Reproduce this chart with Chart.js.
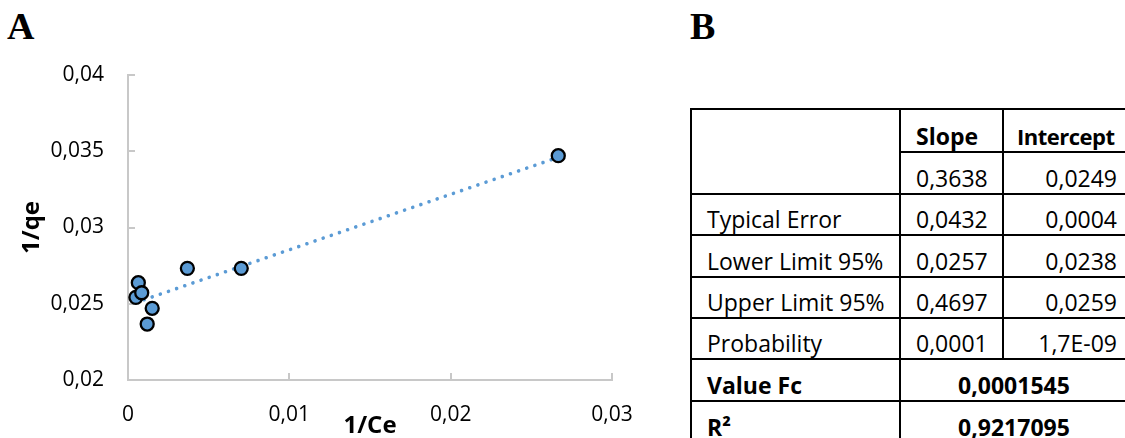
<!DOCTYPE html>
<html>
<head>
<meta charset="utf-8">
<script src="https://cdn.jsdelivr.net/npm/chart.js@4/dist/chart.umd.min.js"></script>
<style>
  body { margin: 0; background: #fff; width: 1125px; height: 438px; overflow: hidden; position: relative; }
  .panel-letter { position: absolute; top: 7px; font: bold 38px "Liberation Serif", serif; line-height: 38px; color: #000; }
  #chartBox { position: absolute; left: 0; top: 0; width: 660px; height: 438px; }
  #stats { position: absolute; left: 0; top: 0; font: 23px "Open Sans", sans-serif; color: #000; }
  #stats .cell { position: absolute; box-sizing: border-box; border: 2px solid #000; display: flex;
                 align-items: flex-end; line-height: 28px; padding: 0 10px 1px 15px; white-space: nowrap; }
  #stats .right { justify-content: flex-end; }
  #stats .center { justify-content: center; padding-left: 0; padding-right: 0; }
  #stats .bold { font-weight: bold; }
  #stats .tight { font-size: 22px; letter-spacing: -0.5px; padding-left: 13px; }
</style>
</head>
<body>
<div class="panel-letter" style="left:7px">A</div>
<div class="panel-letter" style="left:690px">B</div>
<div id="chartBox"><canvas id="isothermChart"></canvas></div>
<div id="stats"></div>

<script>
// 1/Ce vs 1/qe points
const invCe = [0.00049, 0.00064, 0.00085, 0.00119, 0.0015, 0.00368, 0.00702, 0.02667];
const invQe = [0.02542, 0.02638, 0.02572, 0.02367, 0.0247, 0.02732, 0.02732, 0.03471];

const xTickValues = [0, 0.01, 0.02, 0.03];
const xTickLabels = ["0", "0,01", "0,02", "0,03"];
const yTickValues = [0.02, 0.025, 0.03, 0.035, 0.04];
const yTickLabels = ["0,02", "0,025", "0,03", "0,035", "0,04"];

// regression table
const statLabels = ["", "Typical Error", "Lower Limit 95%", "Upper Limit 95%", "Probability"];
const slopeStats = ["0,3638", "0,0432", "0,0257", "0,4697", "0,0001"];
const interceptStats = ["0,0249", "0,0004", "0,0238", "0,0259", "1,7E-09"];
const fitLabels = ["Value Fc", "R²"];
const fitValues = ["0,0001545", "0,9217095"];

const toNum = s => parseFloat(s.replace(",", "."));
const slope = toNum(slopeStats[0]);
const intercept = toNum(interceptStats[0]);

const points = invCe.map((x, i) => ({ x: x, y: invQe[i] }));
const xMin = Math.min(...invCe), xMax = Math.max(...invCe);
const trend = [xMin, xMax].map(x => ({ x: x, y: slope * x + intercept }));

// small tick marks pointing into the plot
const innerTicks = {
    id: "innerTicks",
    beforeDatasetsDraw(chart) {
        const { ctx, scales: { x, y } } = chart;
        ctx.save();
        ctx.strokeStyle = "#c8c8c8";
        ctx.lineWidth = 2;
        ctx.beginPath();
        y.ticks.forEach(t => {
            const py = Math.round(y.getPixelForValue(t.value));
            ctx.moveTo(x.left, py);
            ctx.lineTo(x.left + 7, py);
        });
        x.ticks.forEach(t => {
            const px = Math.round(x.getPixelForValue(t.value));
            ctx.moveTo(px, y.bottom);
            ctx.lineTo(px, y.bottom - 7);
        });
        ctx.stroke();
        ctx.restore();
    }
};

const tickFont = { family: "Open Sans", size: 21 };
const titleFont = { family: "Open Sans", size: 24, weight: "bold", lineHeight: 1 };

new Chart(document.getElementById("isothermChart"), {
    type: "scatter",
    data: {
        datasets: [
            {
                data: points,
                pointRadius: 6.5,
                pointHoverRadius: 6.5,
                pointBorderWidth: 2.3,
                pointBackgroundColor: "#5b9bd5",
                pointBorderColor: "#000",
                order: 0
            },
            {
                type: "line",
                data: trend,
                borderColor: "#5b9bd5",
                borderWidth: 3.6,
                borderDash: [0.01, 8.6],
                borderCapStyle: "round",
                pointRadius: 0,
                fill: false,
                order: 1
            }
        ]
    },
    options: {
        responsive: true,
        maintainAspectRatio: false,
        animation: false,
        layout: { padding: { left: 0, top: 75, right: 48, bottom: 0 } },
        plugins: { legend: { display: false }, tooltip: { enabled: false } },
        scales: {
            x: {
                type: "linear",
                min: 0,
                max: 0.03,
                afterBuildTicks: s => { s.ticks = xTickValues.map(v => ({ value: v })); },
                afterFit: s => { s.height = 58; },
                grid: { drawOnChartArea: false, drawTicks: false },
                border: { color: "#c8c8c8", width: 2 },
                ticks: {
                    padding: 22,
                    color: "#000",
                    font: tickFont,
                    maxRotation: 0,
                    callback: (v, i) => xTickLabels[i]
                },
                title: { display: true, text: "1/Ce", color: "#000", font: titleFont, padding: { top: 0, bottom: 0 } }
            },
            y: {
                type: "linear",
                min: 0.02,
                max: 0.04,
                afterBuildTicks: s => { s.ticks = yTickValues.map(v => ({ value: v })); },
                afterFit: s => { s.width = 128; },
                grid: { drawOnChartArea: false, drawTicks: false },
                border: { color: "#c8c8c8", width: 2 },
                ticks: {
                    padding: 24,
                    color: "#000",
                    font: tickFont,
                    callback: (v, i) => yTickLabels[i]
                },
                title: { display: true, text: "1/qe", color: "#000", font: titleFont, padding: { top: 20, bottom: 0 } }
            }
        }
    },
    plugins: [innerTicks]
});

// regression table, laid out on fixed row/column lines
const colLines = [691, 900, 1003, 1128];
const rowLines = [109, 152, 194, 235, 277, 318, 359, 401, 443];
const stats = document.getElementById("stats");

function cell(r0, r1, c0, c1, text, cls) {
    const d = document.createElement("div");
    d.className = "cell" + (cls ? " " + cls : "");
    d.style.left = (colLines[c0] - 1) + "px";
    d.style.top = (rowLines[r0] - 1) + "px";
    d.style.width = (colLines[c1] - colLines[c0] + 2) + "px";
    d.style.height = (rowLines[r1] - rowLines[r0] + 2) + "px";
    d.textContent = text;
    stats.appendChild(d);
}

cell(0, 2, 0, 1, statLabels[0]);
cell(0, 1, 1, 2, "Slope", "bold");
cell(0, 1, 2, 3, "Intercept", "bold tight");
cell(1, 2, 1, 2, slopeStats[0]);
cell(1, 2, 2, 3, interceptStats[0], "right");
for (let i = 1; i < statLabels.length; i++) {
    cell(i + 1, i + 2, 0, 1, statLabels[i]);
    cell(i + 1, i + 2, 1, 2, slopeStats[i]);
    cell(i + 1, i + 2, 2, 3, interceptStats[i], "right");
}
fitLabels.forEach((lab, i) => {
    const r = statLabels.length + 1 + i;
    cell(r, r + 1, 0, 1, lab, "bold");
    cell(r, r + 1, 1, 3, fitValues[i], "bold center");
});
</script>
</body>
</html>
